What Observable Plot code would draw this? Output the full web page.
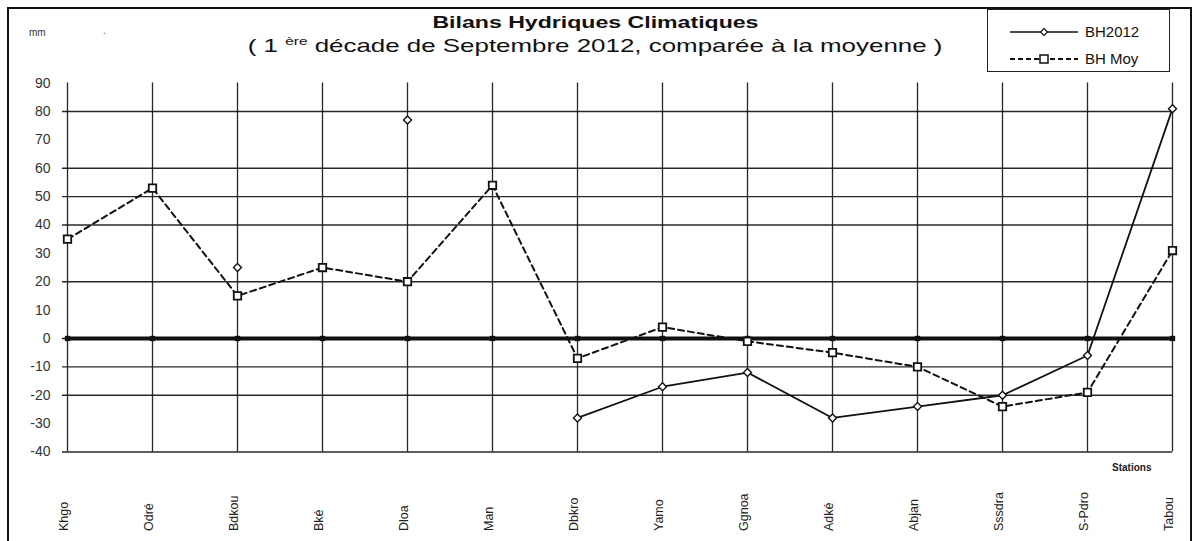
<!DOCTYPE html>
<html>
<head>
<meta charset="utf-8">
<script src="https://cdn.jsdelivr.net/npm/d3@7"></script>
<script src="https://cdn.jsdelivr.net/npm/@observablehq/plot@0.6"></script>
<style>
  html, body { margin: 0; padding: 0; background: #fff; }
  #wrap { position: relative; width: 1201px; height: 541px; overflow: hidden; font-family: "Liberation Sans", Arial, sans-serif; }
  #frame { position: absolute; left: 7px; top: 7px; width: 1185px; height: 540px; border: 2px solid #111; border-bottom: none; box-sizing: border-box; }
  .hdr { position: absolute; left: 0; width: 1190px; text-align: center; color: #111; white-space: nowrap; }
  .hdr span { display: inline-block; transform: scaleX(1.4); transform-origin: center; }
  #title { top: 13px; font-weight: bold; font-size: 16.5px; }
  #subtitle { top: 35px; font-size: 18.5px; }
  #subtitle sup { font-size: 11px; vertical-align: 0; position: relative; top: -7px; }
  #unit { position: absolute; left: 29px; top: 27px; font-size: 10px; color: #333; }
  #dot { position: absolute; left: 103px; top: 25px; font-size: 10px; color: #555; }
  #legend { position: absolute; left: 987px; top: 9px; width: 183px; height: 63px; border: 1.5px solid #222; box-sizing: border-box; background: #fff; }
  #legend svg { position: absolute; left: 0; top: 0; }
  #wrap > svg { position: absolute; left: 0; top: 0; }
</style>
</head>
<body>
<div id="wrap">
  <div id="frame"></div>
  <div id="unit">mm</div>
  <div id="dot">.</div>
  <div id="title" class="hdr"><span>Bilans Hydriques Climatiques</span></div>
  <div id="subtitle" class="hdr"><span>( 1 <sup>ère</sup> décade de Septembre 2012, comparée à la moyenne )</span></div>
  <div id="legend"></div>
</div>
<script>
const stations = ["Khgo","Odré","Bdkou","Bké","Dloa","Man","Dbkro","Yamo","Ggnoa","Adké","Abjan","Sssdra","S-Pdro","Tabou"];
const bh2012   = [null, null, 25, null, 77, null, -28, -17, -12, -28, -24, -20, -6, 81];
const bhMoy    = [35, 53, 15, 25, 20, 54, -7, 4, -1, -5, -10, -24, -19, 31];
const zeroLine = [0, 0, 0, 0, 0, 0, 0, 0, 0, 0, 0, 0, 0, 0];
const yTicks   = [90, 80, 70, 60, 50, 40, 30, 20, 10, 0, -10, -20, -30, -40];
const yGrid    = [80, 60, 50, 40, 20, -10, -20, -40];
const seriesNames = ["BH2012", "BH Moy"];

const d2012 = stations.map((s, i) => ({station: s, v: bh2012[i]}));
const dMoy  = stations.map((s, i) => ({station: s, v: bhMoy[i]}));
const dZero = stations.map((s, i) => ({station: s, v: zeroLine[i]}));

const ink = "#111";
const chart = Plot.plot({
  width: 1201,
  height: 541,
  marginLeft: 67,
  marginRight: 29,
  marginTop: 82.6,
  marginBottom: 89.5,
  style: {background: "transparent", fontFamily: "'Liberation Sans', Arial, sans-serif", color: ink},
  x: {type: "point", domain: stations, padding: 0, axis: null},
  y: {domain: [-40, 90], axis: null, label: null},
  marks: [
    Plot.ruleY(yGrid, {stroke: ink, strokeWidth: 1.3, insetLeft: -5, strokeOpacity: 0.9}),
    Plot.ruleX(stations, {stroke: ink, strokeWidth: 1.3, strokeOpacity: 0.9}),
    Plot.axisY({ticks: yTicks, tickSize: 0, tickPadding: 17, fontSize: 14, fill: "#333", label: null, tickFormat: d => String(d)}),
    Plot.line(dZero, {x: "station", y: "v", stroke: ink, strokeWidth: 4}),
    Plot.ruleY([0], {stroke: ink, strokeWidth: 1.5, insetLeft: -5}),
    Plot.dot(dZero, {x: "station", y: "v", symbol: "square", r: 3, fill: ink, stroke: "none"}),
    Plot.line(dMoy, {x: "station", y: "v", stroke: ink, strokeWidth: 2, strokeDasharray: "6,4"}),
    Plot.line(d2012, {x: "station", y: "v", stroke: ink, strokeWidth: 1.8, defined: d => d.v != null}),
    Plot.dot(dMoy, {x: "station", y: "v", symbol: "square", r: 4.2, fill: "white", stroke: ink, strokeWidth: 1.8}),
    Plot.dot(d2012.filter(d => d.v != null), {x: "station", y: "v", symbol: "diamond2", r: 3.6, fill: "white", stroke: ink, strokeWidth: 1.4}),
    Plot.text(stations, {x: d => d, frameAnchor: "bottom", dy: 79, rotate: -90, textAnchor: "start", fontSize: 12.5, fill: "#222", fontFamily: "'Liberation Sans Narrow', 'Liberation Sans', Arial, sans-serif"}),
    Plot.text(["Stations"], {frameAnchor: "bottom-right", dx: -21, dy: 19, fontSize: 10, fontWeight: "bold", fill: "#222", fontFamily: "'Liberation Sans Narrow', 'Liberation Sans', Arial, sans-serif"})
  ]
});
document.getElementById("wrap").appendChild(chart);

// Legend built from the same series names
const lg = d3.select("#legend").append("svg").attr("width", 183).attr("height", 63);
const rows = [
  {name: seriesNames[0], dash: null, sym: "diamond"},
  {name: seriesNames[1], dash: "5,3", sym: "square"}
];
rows.forEach((r, i) => {
  const y = 22 + i * 27;
  lg.append("line").attr("x1", 22).attr("x2", 90).attr("y1", y).attr("y2", y)
    .attr("stroke", ink).attr("stroke-width", r.dash ? 2 : 1.3).attr("stroke-dasharray", r.dash);
  if (r.sym === "square") {
    lg.append("rect").attr("x", 52).attr("y", y - 4).attr("width", 8).attr("height", 8)
      .attr("fill", "white").attr("stroke", ink).attr("stroke-width", 1.5);
  } else {
    lg.append("path").attr("d", `M56,${y-3.5}L59.5,${y}L56,${y+3.5}L52.5,${y}Z`)
      .attr("fill", "white").attr("stroke", ink).attr("stroke-width", 1.2);
  }
  lg.append("text").attr("x", 97).attr("y", y + 5).attr("font-size", 15)
    .attr("font-family", "'Liberation Sans', Arial, sans-serif").attr("fill", ink).text(r.name);
});
</script>
</body>
</html>
